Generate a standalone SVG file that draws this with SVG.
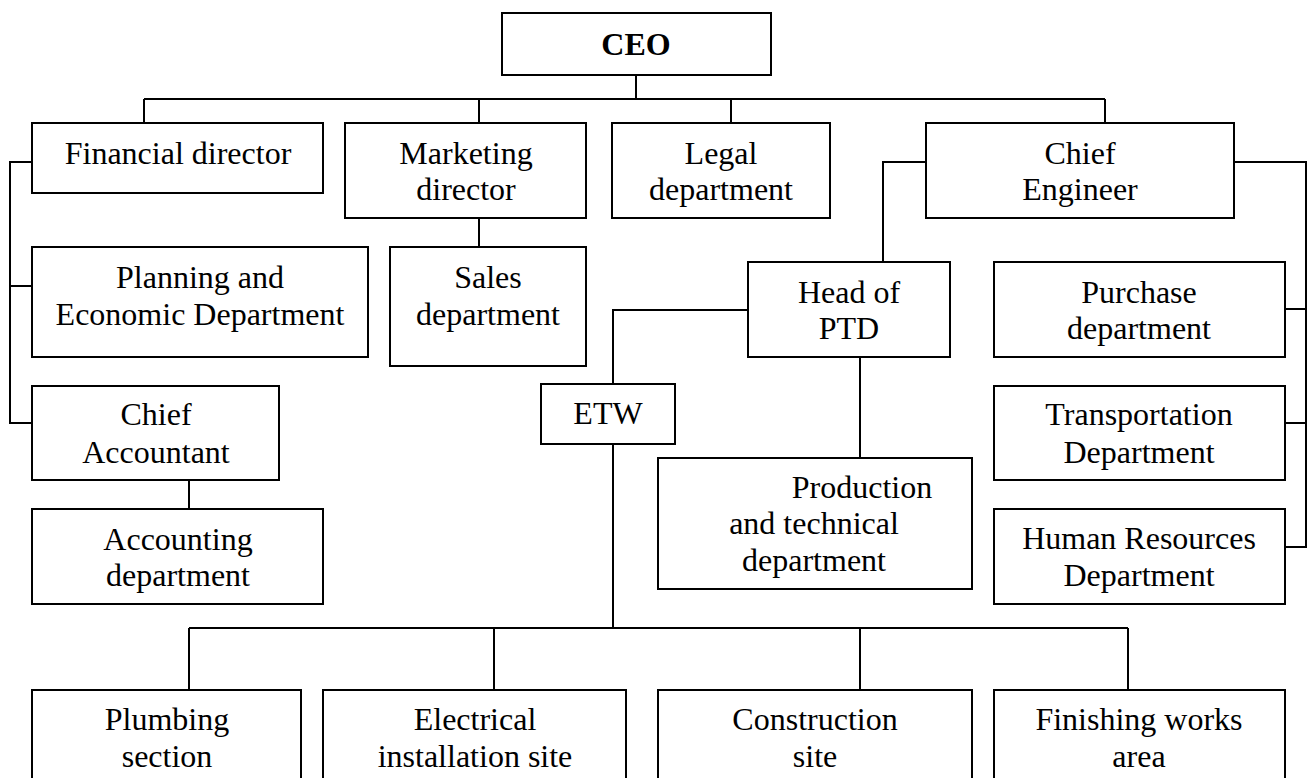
<svg xmlns="http://www.w3.org/2000/svg" width="1309" height="778" viewBox="0 0 1309 778">
<style>
rect{fill:#fff;stroke:#000;stroke-width:2}
text{font-family:"Liberation Serif","Times New Roman",serif;font-size:32px;fill:#000;text-anchor:middle}
.b{font-weight:bold}
#connectors path{fill:none;stroke:#000;stroke-width:2}
</style>
<rect x="0" y="0" width="1309" height="778" style="stroke:none"/>
<g id="connectors">
<path d="M636 75V99M144 99H1105M144 99V123M479 99V123M731 99V123M1105 99V123"/>
<path d="M32 162H10V423H32M10 286H32"/>
<path d="M479 218V247"/>
<path d="M189 480V509"/>
<path d="M926 162H883V262"/>
<path d="M1234 162H1306V547H1285M1285 309H1306M1285 423H1306"/>
<path d="M748 310H613V384"/>
<path d="M860 357V458"/>
<path d="M613 444V628M189 628H1128M189 628V690M494 628V690M860 628V690M1128 628V690"/>
</g>
<g id="ceo"><rect x="502" y="13" width="269" height="62"/><text class="b" x="636" y="55">CEO</text></g>
<g id="financial"><rect x="32" y="123" width="291" height="70"/><text x="178" y="164">Financial director</text></g>
<g id="marketing"><rect x="345" y="123" width="241" height="95"/><text x="466" y="164">Marketing</text><text x="466" y="200">director</text></g>
<g id="legal"><rect x="612" y="123" width="218" height="95"/><text x="721" y="164">Legal</text><text x="721" y="200">department</text></g>
<g id="chief-engineer"><rect x="926" y="123" width="308" height="95"/><text x="1080" y="164">Chief</text><text x="1080" y="200">Engineer</text></g>
<g id="planning"><rect x="32" y="247" width="336" height="110"/><text x="200" y="288">Planning and</text><text x="200" y="325">Economic Department</text></g>
<g id="sales"><rect x="390" y="247" width="196" height="119"/><text x="488" y="288">Sales</text><text x="488" y="325">department</text></g>
<g id="chief-accountant"><rect x="32" y="386" width="247" height="94"/><text x="156" y="425">Chief</text><text x="156" y="463">Accountant</text></g>
<g id="accounting"><rect x="32" y="509" width="291" height="95"/><text x="178" y="550">Accounting</text><text x="178" y="586">department</text></g>
<g id="etw"><rect x="541" y="384" width="134" height="60"/><text x="608" y="424">ETW</text></g>
<g id="head-ptd"><rect x="748" y="262" width="202" height="95"/><text x="849" y="303">Head of</text><text x="849" y="339">PTD</text></g>
<g id="production"><rect x="658" y="458" width="314" height="131"/><text x="862" y="498">Production</text><text x="814" y="534">and technical</text><text x="814" y="571">department</text></g>
<g id="purchase"><rect x="994" y="262" width="291" height="95"/><text x="1139" y="303">Purchase</text><text x="1139" y="339">department</text></g>
<g id="transportation"><rect x="994" y="386" width="291" height="94"/><text x="1139" y="425">Transportation</text><text x="1139" y="463">Department</text></g>
<g id="hr"><rect x="994" y="509" width="291" height="95"/><text x="1139" y="549">Human Resources</text><text x="1139" y="586">Department</text></g>
<g id="plumbing"><rect x="32" y="690" width="269" height="100"/><text x="167" y="730">Plumbing</text><text x="167" y="767">section</text></g>
<g id="electrical"><rect x="323" y="690" width="303" height="100"/><text x="475" y="730">Electrical</text><text x="475" y="767">installation site</text></g>
<g id="construction"><rect x="658" y="690" width="314" height="100"/><text x="815" y="730">Construction</text><text x="815" y="767">site</text></g>
<g id="finishing"><rect x="994" y="690" width="291" height="100"/><text x="1139" y="730">Finishing works</text><text x="1139" y="767">area</text></g>
</svg>
